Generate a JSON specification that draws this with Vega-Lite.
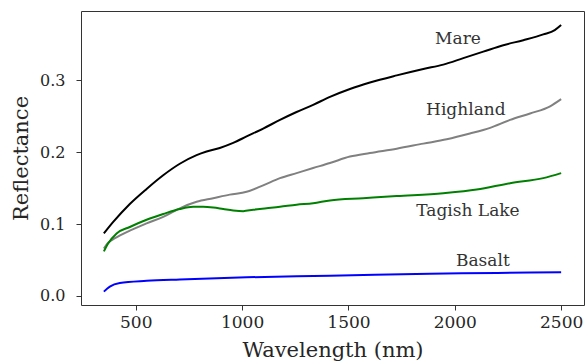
{
  "$schema": "https://vega.github.io/schema/vega-lite/v6.json",
  "autosize": {"type": "none"},
  "padding": {"left": 81, "top": 11, "right": 2, "bottom": 59},
  "width": 503,
  "height": 294,
  "background": "white",
  "config": {
    "view": {"stroke": "#333333", "strokeWidth": 1},
    "font": "DejaVu Serif",
    "axis": {
      "labelFont": "DejaVu Serif",
      "titleFont": "DejaVu Serif",
      "titleFontSize": 21,
      "titleFontWeight": "normal",
      "labelColor": "#262626",
      "titleColor": "#262626",
      "tickColor": "#333333",
      "domain": false,
      "grid": false,
      "tickSize": 5
    }
  },
  "datasets": {
    "spectra": [
      {"series": "Highland", "wl": 350, "r": 0.066},
      {"series": "Highland", "wl": 370, "r": 0.074},
      {"series": "Highland", "wl": 400, "r": 0.080},
      {"series": "Highland", "wl": 472, "r": 0.091},
      {"series": "Highland", "wl": 551, "r": 0.101},
      {"series": "Highland", "wl": 629, "r": 0.110},
      {"series": "Highland", "wl": 707, "r": 0.122},
      {"series": "Highland", "wl": 786, "r": 0.131},
      {"series": "Highland", "wl": 864, "r": 0.136},
      {"series": "Highland", "wl": 942, "r": 0.141},
      {"series": "Highland", "wl": 1021, "r": 0.145},
      {"series": "Highland", "wl": 1099, "r": 0.154},
      {"series": "Highland", "wl": 1178, "r": 0.164},
      {"series": "Highland", "wl": 1256, "r": 0.171},
      {"series": "Highland", "wl": 1334, "r": 0.178},
      {"series": "Highland", "wl": 1413, "r": 0.185},
      {"series": "Highland", "wl": 1507, "r": 0.194},
      {"series": "Highland", "wl": 1601, "r": 0.199},
      {"series": "Highland", "wl": 1727, "r": 0.205},
      {"series": "Highland", "wl": 1852, "r": 0.212},
      {"series": "Highland", "wl": 1962, "r": 0.218},
      {"series": "Highland", "wl": 2071, "r": 0.226},
      {"series": "Highland", "wl": 2166, "r": 0.234},
      {"series": "Highland", "wl": 2260, "r": 0.245},
      {"series": "Highland", "wl": 2354, "r": 0.254},
      {"series": "Highland", "wl": 2448, "r": 0.264},
      {"series": "Highland", "wl": 2500, "r": 0.274},
      {"series": "Mare", "wl": 350, "r": 0.087},
      {"series": "Mare", "wl": 394, "r": 0.103},
      {"series": "Mare", "wl": 472, "r": 0.128},
      {"series": "Mare", "wl": 551, "r": 0.149},
      {"series": "Mare", "wl": 629, "r": 0.168},
      {"series": "Mare", "wl": 707, "r": 0.184},
      {"series": "Mare", "wl": 786, "r": 0.196},
      {"series": "Mare", "wl": 833, "r": 0.201},
      {"series": "Mare", "wl": 895, "r": 0.206},
      {"series": "Mare", "wl": 958, "r": 0.213},
      {"series": "Mare", "wl": 1021, "r": 0.222},
      {"series": "Mare", "wl": 1099, "r": 0.233},
      {"series": "Mare", "wl": 1178, "r": 0.245},
      {"series": "Mare", "wl": 1256, "r": 0.256},
      {"series": "Mare", "wl": 1334, "r": 0.266},
      {"series": "Mare", "wl": 1413, "r": 0.277},
      {"series": "Mare", "wl": 1507, "r": 0.288},
      {"series": "Mare", "wl": 1601, "r": 0.297},
      {"series": "Mare", "wl": 1727, "r": 0.307},
      {"series": "Mare", "wl": 1852, "r": 0.316},
      {"series": "Mare", "wl": 1946, "r": 0.322},
      {"series": "Mare", "wl": 2040, "r": 0.331},
      {"series": "Mare", "wl": 2134, "r": 0.340},
      {"series": "Mare", "wl": 2228, "r": 0.349},
      {"series": "Mare", "wl": 2322, "r": 0.356},
      {"series": "Mare", "wl": 2416, "r": 0.364},
      {"series": "Mare", "wl": 2470, "r": 0.370},
      {"series": "Mare", "wl": 2500, "r": 0.377},
      {"series": "Tagish Lake", "wl": 350, "r": 0.062},
      {"series": "Tagish Lake", "wl": 370, "r": 0.073},
      {"series": "Tagish Lake", "wl": 410, "r": 0.087},
      {"series": "Tagish Lake", "wl": 472, "r": 0.096},
      {"series": "Tagish Lake", "wl": 551, "r": 0.106},
      {"series": "Tagish Lake", "wl": 629, "r": 0.114},
      {"series": "Tagish Lake", "wl": 707, "r": 0.121},
      {"series": "Tagish Lake", "wl": 770, "r": 0.124},
      {"series": "Tagish Lake", "wl": 817, "r": 0.124},
      {"series": "Tagish Lake", "wl": 864, "r": 0.123},
      {"series": "Tagish Lake", "wl": 911, "r": 0.121},
      {"series": "Tagish Lake", "wl": 958, "r": 0.119},
      {"series": "Tagish Lake", "wl": 1005, "r": 0.118},
      {"series": "Tagish Lake", "wl": 1052, "r": 0.120},
      {"series": "Tagish Lake", "wl": 1115, "r": 0.122},
      {"series": "Tagish Lake", "wl": 1178, "r": 0.124},
      {"series": "Tagish Lake", "wl": 1256, "r": 0.127},
      {"series": "Tagish Lake", "wl": 1334, "r": 0.129},
      {"series": "Tagish Lake", "wl": 1413, "r": 0.133},
      {"series": "Tagish Lake", "wl": 1569, "r": 0.136},
      {"series": "Tagish Lake", "wl": 1727, "r": 0.139},
      {"series": "Tagish Lake", "wl": 1946, "r": 0.143},
      {"series": "Tagish Lake", "wl": 2103, "r": 0.148},
      {"series": "Tagish Lake", "wl": 2260, "r": 0.157},
      {"series": "Tagish Lake", "wl": 2416, "r": 0.164},
      {"series": "Tagish Lake", "wl": 2500, "r": 0.171},
      {"series": "Basalt", "wl": 350, "r": 0.006},
      {"series": "Basalt", "wl": 378, "r": 0.013},
      {"series": "Basalt", "wl": 425, "r": 0.018},
      {"series": "Basalt", "wl": 551, "r": 0.021},
      {"series": "Basalt", "wl": 707, "r": 0.023},
      {"series": "Basalt", "wl": 1021, "r": 0.026},
      {"series": "Basalt", "wl": 1413, "r": 0.028},
      {"series": "Basalt", "wl": 1883, "r": 0.031},
      {"series": "Basalt", "wl": 2200, "r": 0.032},
      {"series": "Basalt", "wl": 2500, "r": 0.033}
    ],
    "labels": [
      {"label": "Mare", "wl": 2015, "r": 0.358},
      {"label": "Highland", "wl": 2052, "r": 0.259},
      {"label": "Tagish Lake", "wl": 2062, "r": 0.118},
      {"label": "Basalt", "wl": 2132, "r": 0.049}
    ]
  },
  "layer": [
    {
      "data": {"name": "spectra"},
      "mark": {"type": "line", "strokeWidth": 2, "interpolate": "monotone", "clip": true},
      "encoding": {
        "x": {
          "field": "wl", "type": "quantitative",
          "scale": {"domain": [242.5, 2607.5], "nice": false, "zero": false},
          "axis": {"title": "Wavelength (nm)", "values": [500, 1000, 1500, 2000, 2500], "format": "d", "labelFontSize": 17, "labelPadding": 4, "titlePadding": 9}
        },
        "y": {
          "field": "r", "type": "quantitative",
          "scale": {"domain": [-0.0126, 0.3966], "nice": false, "zero": false},
          "axis": {"title": "Reflectance", "values": [0, 0.1, 0.2, 0.3], "format": ".1f", "labelFontSize": 16, "labelPadding": 11, "titlePadding": 8}
        },
        "color": {
          "field": "series", "type": "nominal",
          "scale": {"domain": ["Highland", "Mare", "Tagish Lake", "Basalt"], "range": ["#808080", "#000000", "#008000", "#0000ff"]},
          "legend": null
        }
      }
    },
    {
      "data": {"name": "labels"},
      "mark": {"type": "text", "font": "DejaVu Serif", "fontSize": 17, "color": "#333333", "align": "center", "baseline": "middle"},
      "encoding": {
        "x": {"field": "wl", "type": "quantitative"},
        "y": {"field": "r", "type": "quantitative"},
        "text": {"field": "label"}
      }
    }
  ]
}
